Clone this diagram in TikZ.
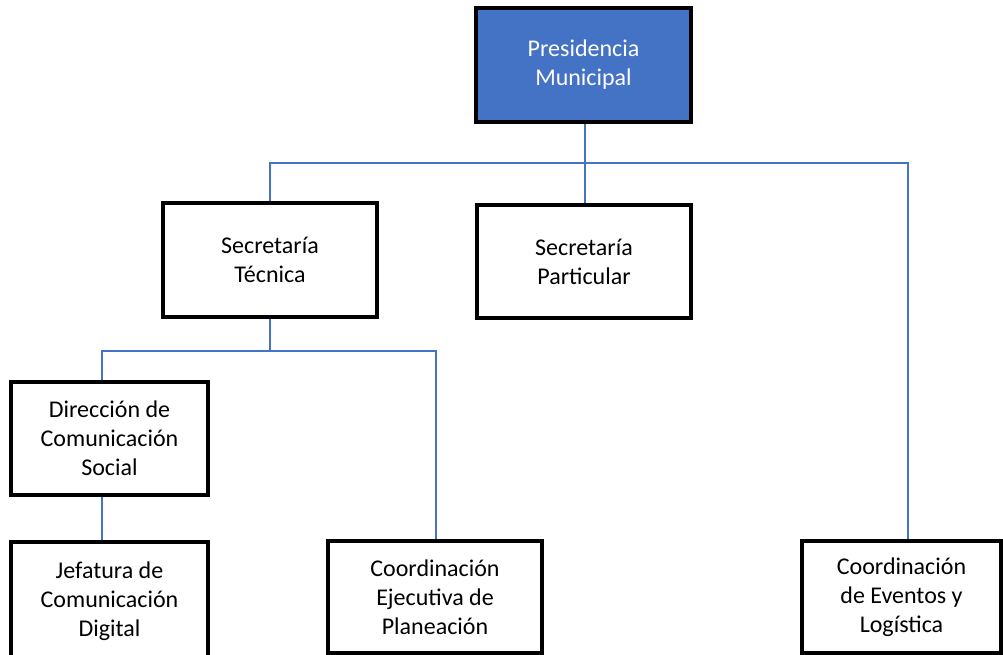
\documentclass[tikz,border=0pt]{standalone}
\usepackage{fontspec}
\setmainfont{Carlito}
\definecolor{linkblue}{HTML}{4472C4}
\definecolor{headfill}{HTML}{4472C4}
\begin{document}
\begin{tikzpicture}[x=1pt,y=-1pt,
  unit/.style={draw=black, line width=3.3pt, fill=white, rectangle, inner sep=0pt,
    align=center, font=\fontsize{24}{29}\selectfont},
  head/.style={unit, fill=headfill, text=white},
  link/.style={draw=linkblue, line width=2.2pt}]
\useasboundingbox (0,0) rectangle (1003,655);

% boxes
\node[head, minimum width=215pt, minimum height=114pt] (pres) at (583.5,65) {Presidencia\\Municipal};
\node[unit, minimum width=214pt, minimum height=114pt] (tec) at (270,260) {Secretaría\\Técnica};
\node[unit, minimum width=214pt, minimum height=113pt] (part) at (584,261.5) {Secretaría\\Particular};
\node[unit, minimum width=197pt, minimum height=113pt] (dir) at (109.5,438.5) {Dirección de\\Comunicación\\Social};
\node[unit, minimum width=197pt, minimum height=118pt] (jef) at (109.5,601) {Jefatura de\\Comunicación\\Digital};
\node[unit, minimum width=214pt, minimum height=112pt] (ejec) at (435,597) {Coordinación\\Ejecutiva de\\Planeación};
\node[unit, minimum width=199pt, minimum height=112pt] (eve) at (901.5,597) {Coordinación\\de Eventos y\\Logística};

% bus points
\coordinate (bus1) at (585,163);
\coordinate (bus2) at (270,351);

% connectors
\draw[link] (pres.south -| bus1) -- (part.north -| bus1);
\draw[link] (tec.north) |- (bus1) -| ([xshift=6.5pt]eve.north);
\draw[link] (tec.south) -- (bus2);
\draw[link] ([xshift=-7.5pt]dir.north) |- (bus2) -| ([xshift=1pt]ejec.north);
\draw[link] ([xshift=-7.5pt]dir.south) -- ([xshift=-7.5pt]jef.north);
\end{tikzpicture}
\end{document}
